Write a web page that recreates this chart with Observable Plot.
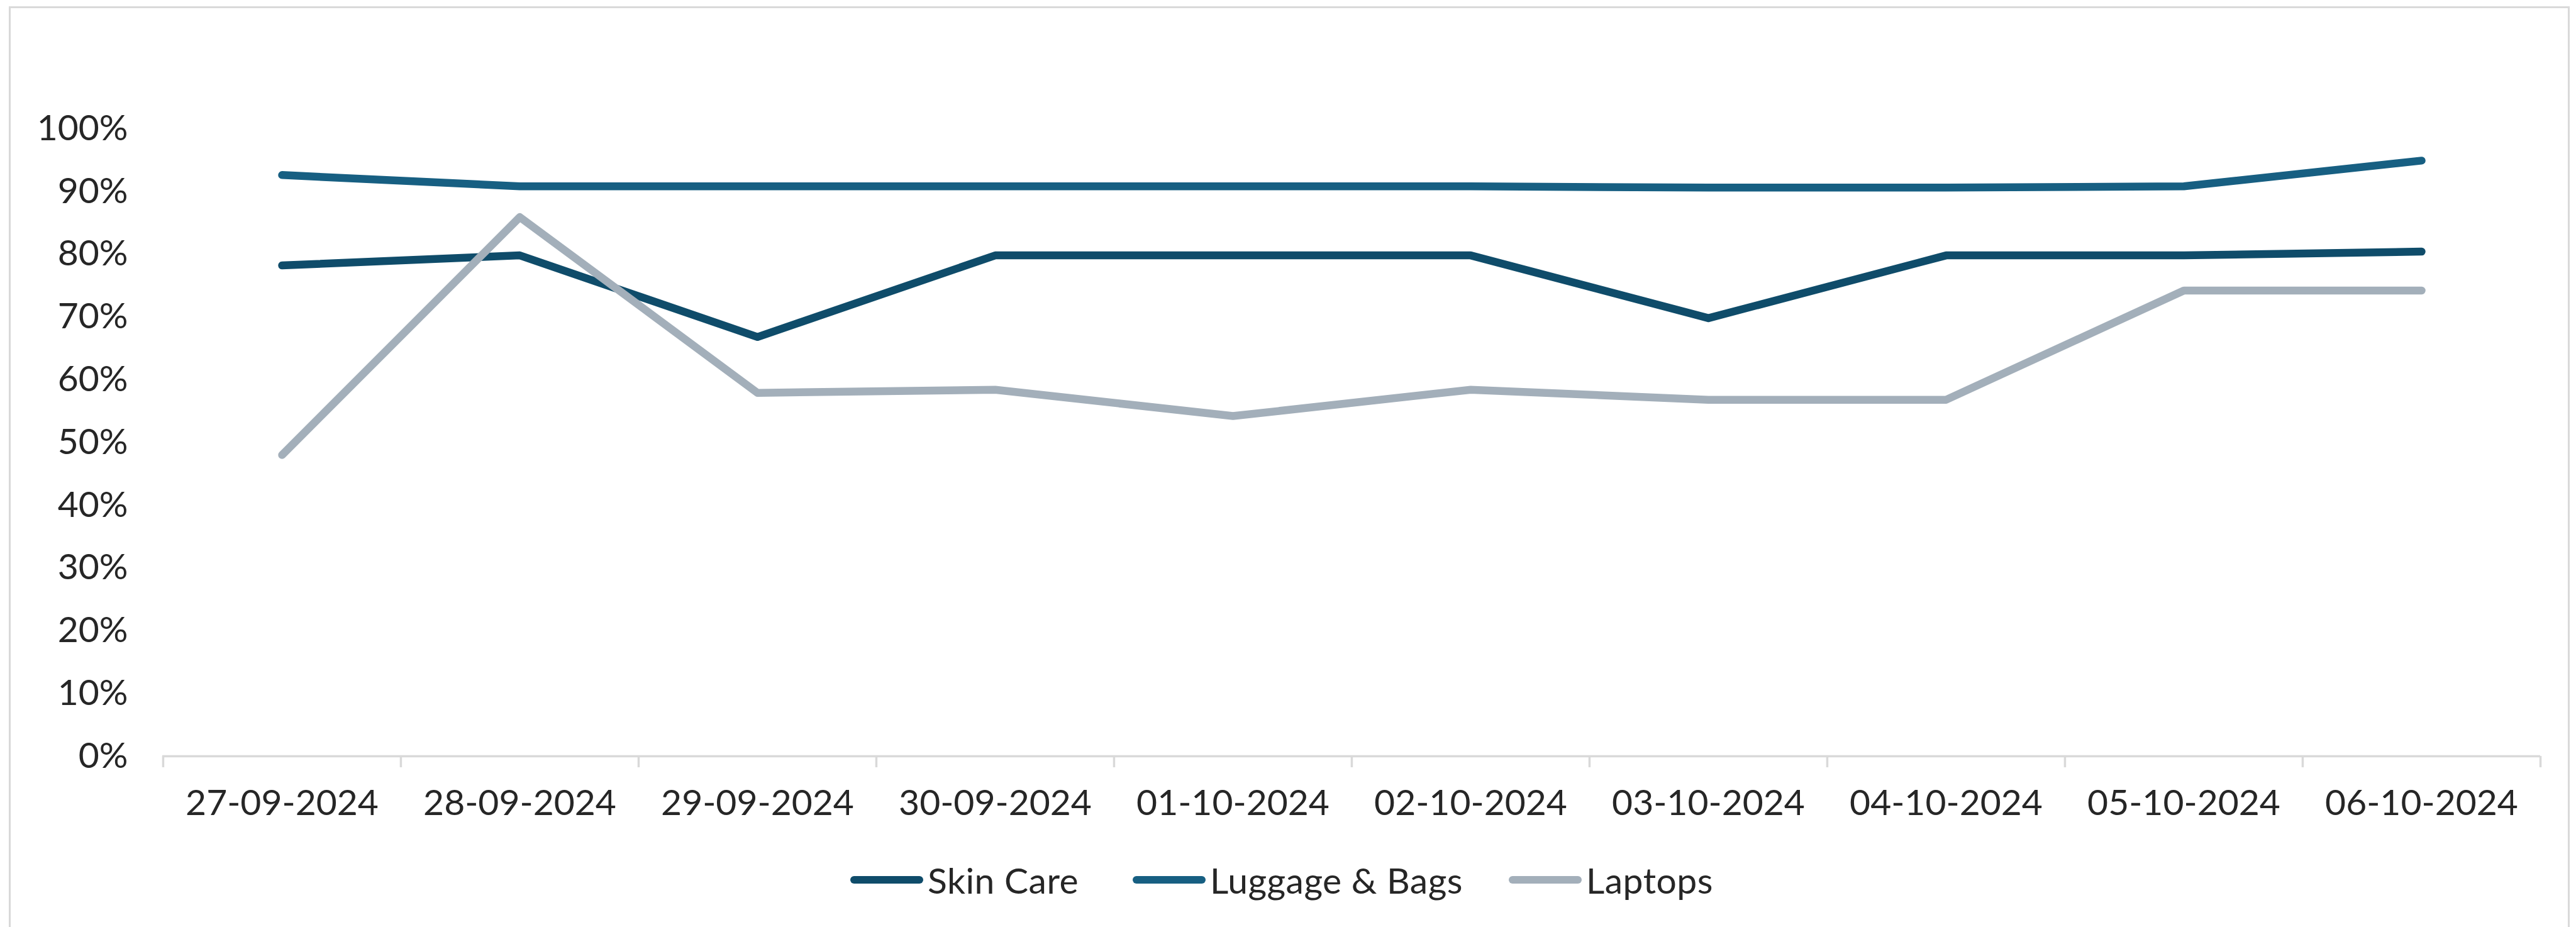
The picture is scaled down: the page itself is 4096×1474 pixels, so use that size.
<!DOCTYPE html>
<html>
<head>
<meta charset="utf-8">
<script src="https://cdn.jsdelivr.net/npm/d3@7"></script>
<script src="https://cdn.jsdelivr.net/npm/@observablehq/plot@0.6"></script>
<style>
html, body { margin: 0; padding: 0; background: #ffffff; }
body { width: 4096px; height: 1474px; position: relative; overflow: hidden; font-family: Lato, "Open Sans", sans-serif; }
#frame { position: absolute; left: 14px; top: 10px; width: 4072px; height: 1520px; border: 3px solid #d9d9d9; box-sizing: border-box; }
#chart { position: absolute; left: 0; top: 0; }
#legend { position: absolute; left: 0; top: 1364px; width: 4096px; height: 70px; font-size: 57px; color: #262626; white-space: nowrap; }
.item { position: absolute; top: 0; height: 70px; display: flex; align-items: center; letter-spacing: 0.5px; }
.sw { width: 116px; height: 12px; border-radius: 6px; margin-right: 7px; }
</style>
</head>
<body>
<div id="frame"></div>
<div id="chart"></div>
<div id="legend"></div>
<script>
const dates = ["27-09-2024","28-09-2024","29-09-2024","30-09-2024","01-10-2024","02-10-2024","03-10-2024","04-10-2024","05-10-2024","06-10-2024"];
const seriesNames = ["Skin Care","Luggage & Bags","Laptops"];
const skinCare    = [78.2, 79.8, 66.8, 79.8, 79.8, 79.8, 69.8, 79.8, 79.8, 80.4];
const luggageBags = [92.6, 90.8, 90.8, 90.8, 90.8, 90.8, 90.6, 90.6, 90.8, 94.9];
const laptops     = [48.0, 85.9, 57.9, 58.4, 54.2, 58.4, 56.8, 56.8, 74.2, 74.2];
const seriesColors = ["#0f4c6a", "#175f82", "#a3afba"];
const yTicks = [0, 0.1, 0.2, 0.3, 0.4, 0.5, 0.6, 0.7, 0.8, 0.9, 1.0];

const seriesValues = [skinCare, luggageBags, laptops];
const rows = [];
seriesNames.forEach((name, i) => {
  dates.forEach((d, j) => rows.push({date: d, series: name, value: seriesValues[i][j] / 100}));
});

const W = 4096, H = 1322, mL = 258, mR = 57, mT = 204, mB = 120;
const bw = (W - mL - mR) / dates.length;
const axisGray = "#d9d9d9";

const chart = Plot.plot({
  width: W,
  height: H,
  marginLeft: mL,
  marginRight: mR,
  marginTop: mT,
  marginBottom: mB,
  style: {fontFamily: "Lato, 'Open Sans', sans-serif", fontSize: "57px", color: "#262626", background: "transparent"},
  x: {type: "band", domain: dates, padding: 0, label: null},
  y: {domain: [0, 1], label: null},
  color: {domain: seriesNames, range: seriesColors},
  marks: [
    Plot.axisY({ticks: yTicks, tickFormat: d3.format(".0%"), tickSize: 0, tickPadding: 55, label: null}),
    Plot.axisX({tickSize: 0, tickPadding: 53, label: null}),
    Plot.axisX({tickSize: 18, fill: "none", dx: -bw / 2, stroke: axisGray, strokeWidth: 3.5, label: null}),
    Plot.axisX({ticks: [dates[dates.length - 1]], tickSize: 18, fill: "none", dx: bw / 2, stroke: axisGray, strokeWidth: 3.5, label: null}),
    Plot.ruleY([0], {stroke: axisGray, strokeWidth: 3.5}),
    Plot.line(rows, {x: "date", y: "value", z: "series", stroke: "series", strokeWidth: 12.5, strokeLinecap: "round", strokeLinejoin: "round"})
  ]
});
document.getElementById("chart").appendChild(chart);

// legend item left edges (px), matching the reference legend placement
const legendLeft = [1352, 1801, 2399];
const legend = document.getElementById("legend");
seriesNames.forEach((name, i) => {
  const item = document.createElement("div");
  item.className = "item";
  item.style.left = legendLeft[i] + "px";
  const sw = document.createElement("div");
  sw.className = "sw";
  sw.style.background = seriesColors[i];
  const label = document.createElement("span");
  label.textContent = name;
  item.appendChild(sw);
  item.appendChild(label);
  legend.appendChild(item);
});
</script>
</body>
</html>
